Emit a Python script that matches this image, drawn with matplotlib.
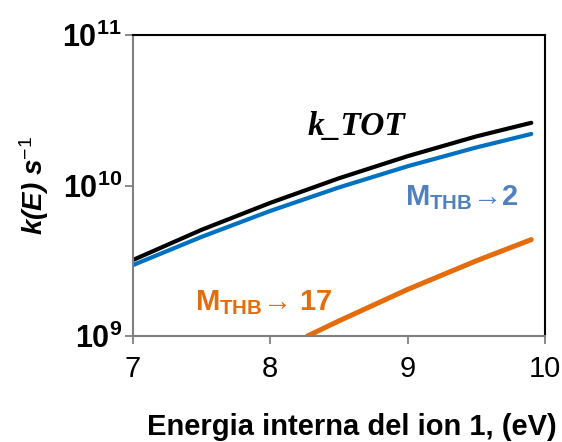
import matplotlib
matplotlib.use("Agg")
import matplotlib.pyplot as plt
from matplotlib.ticker import FixedLocator, NullLocator

plt.rcParams['font.family'] = ['Liberation Sans', 'DejaVu Sans']
plt.rcParams['mathtext.fontset'] = 'custom'
plt.rcParams['mathtext.rm'] = 'Liberation Sans'
plt.rcParams['mathtext.bf'] = 'Liberation Sans:bold'
plt.rcParams['mathtext.it'] = 'Liberation Sans:italic:bold'

# datos
energia = [7.0, 7.5, 8.0, 8.5, 9.0, 9.5, 9.9]
k_tot = [3.20e9, 5.08e9, 7.67e9, 1.117e10, 1.567e10, 2.12e10, 2.61e10]
k_m2 = [2.96e9, 4.56e9, 6.78e9, 9.71e9, 1.343e10, 1.79e10, 2.2e10]
e_m17 = [8.27, 8.5, 9.0, 9.5, 9.9]
k_m17 = [1.0e9, 1.26e9, 2.04e9, 3.16e9, 4.37e9]

xticks = [7, 8, 9, 10]
yticks = [1e9, 1e10, 1e11]
ylabels = [r'$\mathbf{10^{9}}$', r'$\mathbf{10^{10}}$', r'$\mathbf{10^{11}}$']

fig = plt.figure(figsize=(5.62, 4.42), dpi=100)
ax = fig.add_axes([133 / 562, 1 - 336 / 442, 412 / 562, 301 / 442])

ax.plot(energia, k_tot, color='black', lw=3, solid_capstyle='round', solid_joinstyle='round')
ax.plot(energia, k_m2, color='#0070c0', lw=3, solid_capstyle='round', solid_joinstyle='round')
ax.plot(e_m17, k_m17, color='#e46c0a', lw=3.6, solid_capstyle='round', solid_joinstyle='round')

ax.set_yscale('log')
ax.set_xlim(7, 10)
ax.set_ylim(1e9, 1e11)
ax.xaxis.set_major_locator(FixedLocator(xticks))
ax.yaxis.set_major_locator(FixedLocator(yticks))
ax.yaxis.set_minor_locator(NullLocator())
ax.set_xticklabels([str(t) for t in xticks], fontsize=21)
ax.set_yticklabels(ylabels, fontsize=22)
ax.tick_params(axis='both', direction='out', length=6, width=1.3, color='#808080')
ax.tick_params(axis='x', pad=8)
ax.tick_params(axis='y', pad=2)

for s in ['left', 'bottom']:
    ax.spines[s].set_color('#808080')
    ax.spines[s].set_linewidth(1.5)
for s in ['top', 'right']:
    ax.spines[s].set_color('black')
    ax.spines[s].set_linewidth(1.5)

ax.set_xlabel('Energia interna del ion 1, (eV)', fontsize=21, fontweight='bold')
ax.xaxis.set_label_coords(0.532, -0.255)
ax.set_ylabel(r'k(E) s$^{\mathit{-1}}$', fontsize=20, fontweight='bold', style='italic', labelpad=8)

ax.text(8.63, 2.45e10, 'k_TOT', fontsize=24, fontweight='bold', style='italic',
        family=['Liberation Serif', 'DejaVu Serif'], ha='center', va='center')
ax.text(9.39, 8.3e9, r'$\mathbf{M_{THB}}$' + '\u2192' + r'$\mathbf{2}$', fontsize=21,
        color='#4f81bd', fontweight='bold', ha='center', va='center')
ax.text(7.95, 1.66e9, r'$\mathbf{M_{THB}}$' + '\u2192 ' + r'$\mathbf{17}$', fontsize=21,
        color='#e46c0a', fontweight='bold', ha='center', va='center')

fig.savefig('out.png', dpi=100)
